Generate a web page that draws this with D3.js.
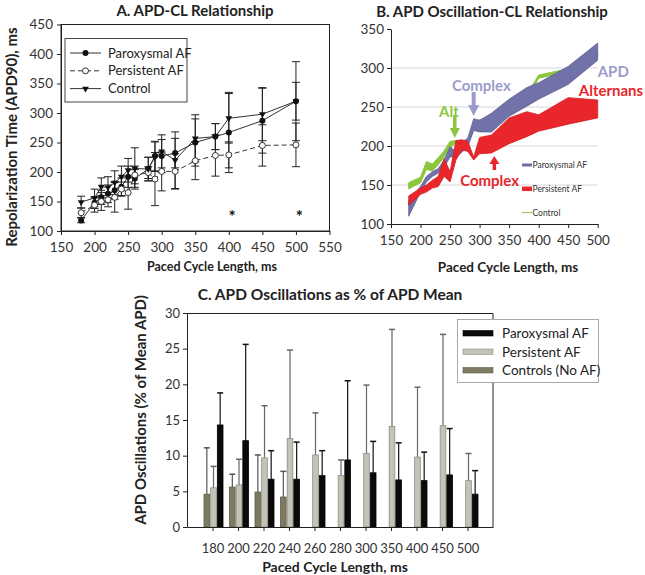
<!DOCTYPE html>
<html><head><meta charset="utf-8">
<script src="https://cdn.jsdelivr.net/npm/d3@7"></script>
<style>body{margin:0;background:#fff} text{font-family:Lato,"Open Sans",sans-serif}</style>
</head><body><svg id="c" width="645" height="575"></svg>
<script>
// ---------- Panel A data ----------
const clA = [180,200,210,220,230,240,250,260,280,290,300,320,350,380,400,450,500];
const parMean = [118,148,157,163,169,175,192,189,205,227,227,232,250,260,267,287,320];
const parSD   = [4,10,12,15,15,15,18,15,20,25,28,25,40,22,68,55,67];
const perMean = [131,144,150,153,157,171,165,195,199,188,201,201,219,228,229,245,246];
const perSD   = [8,12,15,12,25,12,28,15,10,45,33,30,32,35,22,35,37];
const ctlMean = [149,156,175,174,182,192,203,206,205,226,235,220,257,260,291,298,320];
const ctlSD   = [10,15,15,18,20,18,20,35,20,25,28,48,40,22,42,45,32];
const ticksAx = [150,200,250,300,350,400,450,500,550];
const ticksAy = [100,150,200,250,300,350,400,450];
const starsCL = [405,505];

// ---------- Panel B data (band low/high) ----------
const clB = [180,200,210,220,230,240,250,260,270,280,290,300,320,350,380,400,450,500];
const bParLo = [110,141,154,161,165,173,186,186,192,199,220,218,218,238,251,260,279,310];
const bParHi = [130,148,161,167,171,182,199,193,205,210,235,233,242,260,275,281,302,332];
const bPerLo = [124,138,141,146,148,161,154,182,195,193,182,190,191,203,212,219,228,236];
const bPerHi = [136,146,150,156,161,184,167,207,208,206,186,211,214,236,244,240,262,259];
const bCtlLo = [145,153,170,168,176,186,198,204,204,204,222,228,218,250,258,287,295,316];
const bCtlHi = [153,160,180,177,185,194,206,207,207,207,226,234,222,256,266,291,299,321];
const ticksBx = [150,200,250,300,350,400,450,500];
const ticksBy = [100,150,200,250,300,350];

// ---------- Panel C data ----------
const catsC = ["180","200","220","240","260","280","300","350","400","450","500"];
const cPar    = [14.3,12.1,6.7,6.7,7.2,9.4,7.6,6.6,6.5,7.3,4.6];
const cParErr = [18.8,25.6,10.7,11.9,10.7,20.5,12.0,11.8,10.5,13.8,7.9];
const cPer    = [5.5,5.9,9.7,12.4,10.1,7.2,10.3,14.1,9.8,14.2,6.5];
const cPerErr = [8.5,9.5,17.0,24.8,16.0,9.4,19.9,27.7,19.6,27.0,10.3];
const cCtl    = [4.6,5.6,4.9,4.2,null,null,null,null,null,null,null];
const cCtlErr = [11.1,7.4,10.1,7.8,null,null,null,null,null,null,null];
const ticksCy = [0,5,10,15,20,25,30];

const svg = d3.select("#c");
const tickCol = "#333";

// ================= Panel A =================
{
  const x = d3.scaleLinear([150,550],[61,329.5]);
  const y = d3.scaleLinear([100,450],[231,24.5]);
  const g = svg.append("g");
  g.append("rect").attr("x",61).attr("y",24.5).attr("width",268.5).attr("height",206.5)
    .attr("fill","none").attr("stroke","#222").attr("stroke-width",1);
  const ax = g.append("g").attr("transform","translate(0,231)")
    .call(d3.axisBottom(x).tickValues(ticksAx).tickSize(4).tickSizeOuter(0));
  const ay = g.append("g").attr("transform","translate(61,0)")
    .call(d3.axisLeft(y).tickValues(ticksAy).tickSize(4).tickSizeOuter(0));
  [ax,ay].forEach(a=>{a.select(".domain").attr("stroke","#222");
    a.selectAll("line").attr("stroke","#222");
    a.selectAll("text").attr("fill",tickCol).attr("font-size",13.5).style("font-family","Lato,sans-serif");});
  ax.selectAll("text").attr("dy","1.05em");
  ay.selectAll("text").attr("dx","-1px");
  g.append("text").attr("x",195).attr("y",16).attr("text-anchor","middle")
    .attr("font-weight","bold").attr("font-size",15).attr("fill","#222").text("A. APD-CL Relationship");
  g.append("text").attr("transform","translate(17,137) rotate(-90)").attr("text-anchor","middle")
    .attr("font-weight","bold").attr("font-size",15).attr("fill","#222").text("Repolarization Time (APD90), ms");
  g.append("text").attr("x",212).attr("y",271).attr("text-anchor","middle")
    .attr("font-weight","bold").attr("font-size",12.5).attr("fill","#222").text("Paced Cycle Length, ms");

  const series = [
    {m:parMean,s:parSD,dash:null,mk:"fc"},
    {m:perMean,s:perSD,dash:"5,3",mk:"oc"},
    {m:ctlMean,s:ctlSD,dash:null,mk:"tri"}
  ];
  series.forEach(se=>{
    clA.forEach((c,i)=>{
      const lo=y(se.m[i]-se.s[i]), hi=y(se.m[i]+se.s[i]), cx=x(c);
      g.append("line").attr("x1",cx).attr("x2",cx).attr("y1",lo).attr("y2",hi).attr("stroke","#222").attr("stroke-width",1);
      [lo,hi].forEach(yy=>g.append("line").attr("x1",cx-4).attr("x2",cx+4).attr("y1",yy).attr("y2",yy).attr("stroke","#222").attr("stroke-width",1));
    });
  });
  const line = d3.line().x((d,i)=>x(clA[i])).y(d=>y(d));
  series.forEach(se=>{
    g.append("path").attr("d",line(se.m)).attr("fill","none").attr("stroke","#333").attr("stroke-width",1)
      .attr("stroke-dasharray",se.dash);
  });
  const tri = d3.symbol(d3.symbolTriangle,20);
  function marker(sel,mk,cx,cy){
    if(mk==="fc") sel.append("circle").attr("cx",cx).attr("cy",cy).attr("r",3).attr("fill","#111");
    else if(mk==="oc") sel.append("circle").attr("cx",cx).attr("cy",cy).attr("r",3).attr("fill","#fff").attr("stroke","#333");
    else sel.append("path").attr("d",tri()).attr("transform",`translate(${cx},${cy}) rotate(180)`).attr("fill","#111");
  }
  series.forEach(se=>clA.forEach((c,i)=>marker(g,se.mk,x(c),y(se.m[i]))));
  starsCL.forEach(c=>g.append("text").attr("x",x(c)).attr("y",y(114)).attr("text-anchor","middle")
    .attr("font-size",17).attr("font-weight","bold").attr("fill","#111").text("*"));
  const lg = g.append("g");
  lg.append("rect").attr("x",65).attr("y",38.5).attr("width",122).attr("height",63.5).attr("fill","#fff").attr("stroke","#444");
  const names=["Paroxysmal AF","Persistent AF","Control"];
  series.forEach((se,i)=>{
    const yy=53+i*17.8;
    lg.append("line").attr("x1",70).attr("x2",101).attr("y1",yy).attr("y2",yy).attr("stroke","#333").attr("stroke-dasharray",se.dash);
    marker(lg,se.mk,85.5,yy);
    lg.append("text").attr("x",108).attr("y",yy+4.5).attr("font-size",13).attr("fill","#222").text(names[i]);
  });
}

// ================= Panel B =================
{
  const x = d3.scaleLinear([150,500],[391,597.7]);
  const y = d3.scaleLinear([100,350],[224,29]);
  const g = svg.append("g");
  [150,200,250,300].forEach(v=>g.append("line").attr("x1",391).attr("x2",597.7).attr("y1",y(v)).attr("y2",y(v)).attr("stroke","#d6d6d6"));
  const area=(lo,hi)=>d3.area().x((d,i)=>x(clB[i])).y0((d,i)=>y(lo[i])).y1((d,i)=>y(hi[i]))(clB);
  g.append("path").attr("d",area(bCtlLo,bCtlHi)).attr("fill","#8cc63f").attr("stroke","#8cc63f").attr("stroke-width",1);
  g.append("path").attr("d",area(bParLo,bParHi)).attr("fill","#7172a8").attr("stroke","#5f6098").attr("stroke-width",0.8);
  g.append("path").attr("d",area(bPerLo,bPerHi)).attr("fill","#e8262b").attr("stroke","#d41f25").attr("stroke-width",0.8);
  const ax = g.append("g").attr("transform","translate(0,224)")
    .call(d3.axisBottom(x).tickValues(ticksBx).tickSize(4).tickSizeOuter(0));
  const ay = g.append("g").attr("transform","translate(391,0)")
    .call(d3.axisLeft(y).tickValues(ticksBy).tickSize(4).tickSizeOuter(0));
  [ax,ay].forEach(a=>{a.select(".domain").attr("stroke","#222");
    a.selectAll("line").attr("stroke","#222");
    a.selectAll("text").attr("fill",tickCol).attr("font-size",13.5).style("font-family","Lato,sans-serif");});
  ax.selectAll("text").attr("dy","1.05em");
  g.append("text").attr("x",492).attr("y",17).attr("text-anchor","middle")
    .attr("font-weight","bold").attr("font-size",15).attr("fill","#222").text("B. APD Oscillation-CL Relationship");
  g.append("text").attr("x",508).attr("y",272).attr("text-anchor","middle")
    .attr("font-weight","bold").attr("font-size",13.5).attr("fill","#222").text("Paced Cycle Length, ms");
  const ann=(t,cx,vy,col,anchor)=>g.append("text").attr("x",cx).attr("y",y(vy)).attr("text-anchor",anchor||"start")
    .attr("font-weight","bold").attr("font-size",15).attr("fill",col).text(t);
  ann("APD",x(500),288,"#9c9ccb");
  ann("Alternans",x(468),264,"#e8262b");
  ann("Complex",x(303),271,"#9c9ccb","middle");
  ann("Alt",x(248),237,"#8cc63f","middle");
  ann("Complex",x(317),149,"#e8262b","middle");
  function arrow(cx,y0,y1,col,sw,hw,hl){
    const dir = y1>y0?1:-1;
    const yh = y1 - dir*hl;
    g.append("path").attr("d",`M${cx-sw/2},${y0} L${cx+sw/2},${y0} L${cx+sw/2},${yh} L${cx+hw/2},${yh} L${cx},${y1} L${cx-hw/2},${yh} L${cx-sw/2},${yh} Z`)
      .attr("fill",col);
  }
  arrow(x(290),92,116,"#9c9ccb",4,11,11);
  arrow(x(258),115,138,"#8cc63f",3.5,10,10);
  arrow(x(325),170,156,"#e8262b",3.5,10,8);
  const items=[["Paroxysmal AF","#6d6ea6",3],["Persistent AF","#e8262b",4.5],["Control","#8cc63f",1]];
  items.forEach((it,i)=>{
    const yy=165+i*23.8;
    g.append("line").attr("x1",522).attr("x2",532).attr("y1",yy).attr("y2",yy).attr("stroke",it[1]).attr("stroke-width",it[2]);
    g.append("text").attr("x",532.5).attr("y",yy+3).attr("font-size",8.5).attr("fill","#333").text(it[0]);
  });
}

// ================= Panel C =================
{
  const x = d3.scalePoint(catsC,[187,493]).padding(1);
  const y = d3.scaleLinear([0,30],[527,313]);
  const xs = d3.scaleBand(["ctl","per","par"],[-9,11]);
  const g = svg.append("g");
  g.append("path").attr("d","M187,313.5 L493,313.5 L493,527").attr("fill","none").attr("stroke","#222");
  const sers=[
    {k:"ctl",v:cCtl,e:cCtlErr,fill:"#7c7b62",stroke:"#5f5e48",ec:"#555"},
    {k:"per",v:cPer,e:cPerErr,fill:"#c3c3b6",stroke:"#8d8d84",ec:"#666"},
    {k:"par",v:cPar,e:cParErr,fill:"#0a0a0a",stroke:"#000",ec:"#111"}
  ];
  sers.forEach(se=>{
    catsC.forEach((c,i)=>{
      if(se.v[i]==null) return;
      const bx = x(c)+xs(se.k), bw=xs.bandwidth(), cx=bx+bw/2;
      g.append("line").attr("x1",cx).attr("x2",cx).attr("y1",y(se.v[i])).attr("y2",y(se.e[i])).attr("stroke",se.ec).attr("stroke-width",1.2);
      g.append("line").attr("x1",cx-3).attr("x2",cx+3).attr("y1",y(se.e[i])).attr("y2",y(se.e[i])).attr("stroke",se.ec).attr("stroke-width",1.5);
    });
  });
  sers.forEach(se=>{
    catsC.forEach((c,i)=>{
      if(se.v[i]==null) return;
      const bx = x(c)+xs(se.k), bw=xs.bandwidth();
      g.append("rect").attr("x",bx+0.5).attr("y",y(se.v[i])).attr("width",bw-1).attr("height",y(0)-y(se.v[i]))
        .attr("fill",se.fill).attr("stroke",se.stroke).attr("stroke-width",0.8);
    });
  });
  const ax = g.append("g").attr("transform","translate(0,527)")
    .call(d3.axisBottom(x).tickSize(4).tickSizeOuter(0));
  const ay = g.append("g").attr("transform","translate(187,0)")
    .call(d3.axisLeft(y).tickValues(ticksCy).tickSize(4).tickSizeOuter(0));
  [ax,ay].forEach(a=>{a.select(".domain").attr("stroke","#222");
    a.selectAll("line").attr("stroke","#222");
    a.selectAll("text").attr("fill",tickCol).attr("font-size",13).style("font-family","Lato,sans-serif");});
  ax.selectAll("text").attr("dy","1.45em");
  g.append("text").attr("x",330).attr("y",300).attr("text-anchor","middle")
    .attr("font-weight","bold").attr("font-size",15.5).attr("fill","#222").text("C. APD Oscillations as % of APD Mean");
  g.append("text").attr("transform","translate(146,410) rotate(-90)").attr("text-anchor","middle")
    .attr("font-weight","bold").attr("font-size",15).attr("fill","#222").text("APD Oscillations (% of Mean APD)");
  g.append("text").attr("x",335).attr("y",572).attr("text-anchor","middle")
    .attr("font-weight","bold").attr("font-size",14).attr("fill","#222").text("Paced Cycle Length, ms");
  g.append("rect").attr("x",457.5).attr("y",319.5).attr("width",141).attr("height",63).attr("fill","#fff").attr("stroke","#aaa");
  const names=["Paroxysmal AF","Persistent AF","Controls (No AF)"];
  [sers[2],sers[1],sers[0]].forEach((se,i)=>{
    const yy=333+i*18.5;
    g.append("rect").attr("x",463).attr("y",yy-2.5).attr("width",30).attr("height",5.5).attr("fill",se.fill).attr("stroke",se.stroke).attr("stroke-width",0.6);
    g.append("text").attr("x",502).attr("y",yy+5).attr("font-size",13.5).attr("fill","#222").text(names[i]);
  });
}
</script></body></html>
